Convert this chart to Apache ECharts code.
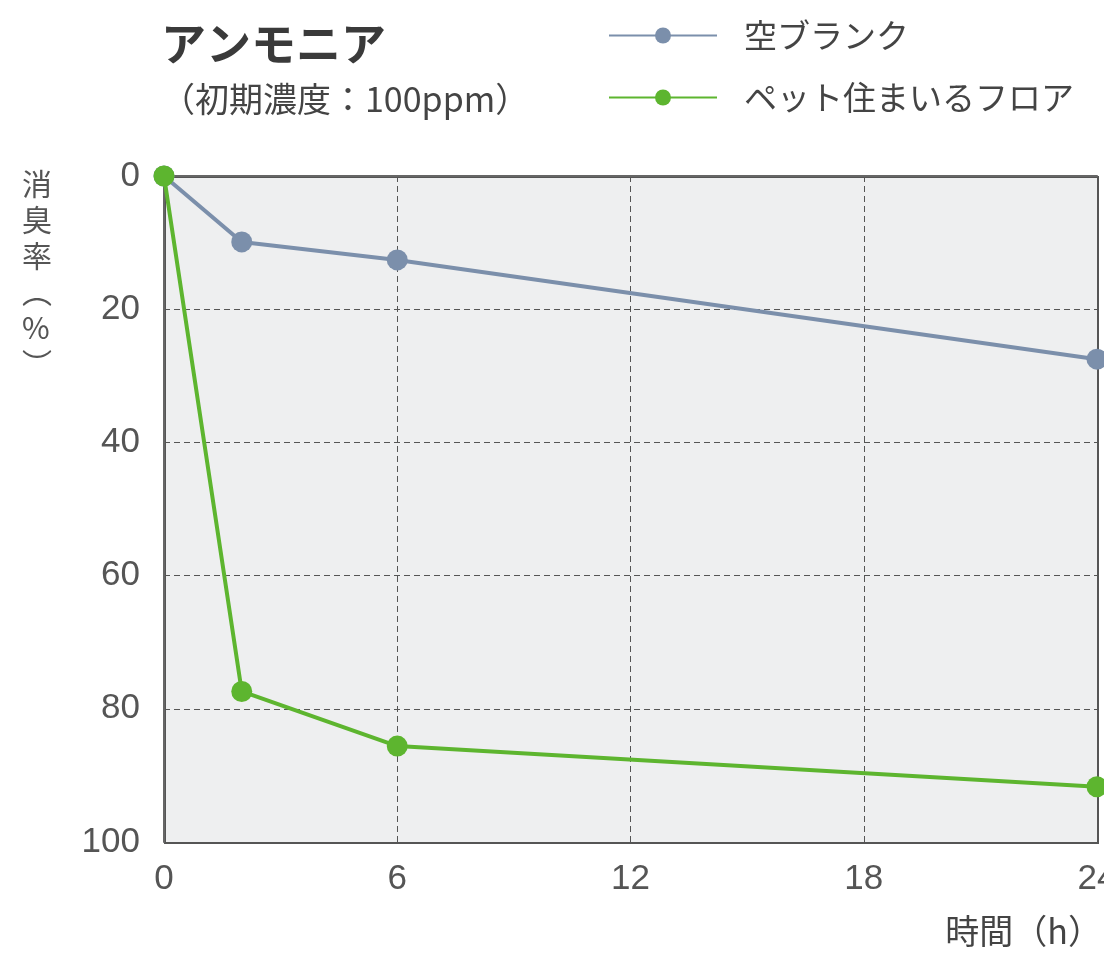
<!DOCTYPE html>
<html><head><meta charset="utf-8">
<script src="https://cdn.jsdelivr.net/npm/echarts@6/dist/echarts.min.js"></script>
<style>html,body{margin:0;padding:0;background:#fff}#c{width:1104px;height:961px}</style>
</head><body><div id="c"></div>
<script>
const hours = [0, 2, 6, 24];
const blankValues = [0, 9.9, 12.6, 27.5];
const petFloorValues = [0, 77.4, 85.6, 91.7];
const seriesNames = ['空ブランク', 'ペット住まいるフロア'];
const xTicks = [0, 6, 12, 18, 24];
const yTicks = [0, 20, 40, 60, 80, 100];

const FONT = '"Noto Sans CJK JP", "Noto Sans", sans-serif';
const NUMFONT = '"Liberation Sans", "Noto Sans CJK JP", sans-serif';
const chart = echarts.init(document.getElementById('c'));
chart.setOption({
  backgroundColor: '#fff',
  animation: false,
  title: {
    text: 'アンモニア',
    subtext: '（初期濃度：100ppm）',
    left: 156, top: 16,
    itemGap: 16,
    textStyle: {fontFamily: FONT, fontSize: 45, fontWeight: 'bold', color: '#3a3a3a'},
    subtextStyle: {fontFamily: FONT, fontSize: 34, color: '#444'}
  },
  legend: {
    left: 603, top: 14, orient: 'vertical',
    itemWidth: 108, itemHeight: 20, itemGap: 29,
    textStyle: {fontFamily: FONT, fontSize: 33, color: '#444', padding: [0,0,0,22]},
    data: seriesNames
  },
  grid: {left: 164, right: 7, top: 176, bottom: 119, outerBoundsMode: 'none', containLabel: false},
  xAxis: {
    type: 'value', min: 0, max: 24, interval: 6,
    axisLine: {show: true, lineStyle: {color: '#666', width: 2}},
    axisTick: {show: false},
    axisLabel: {fontFamily: NUMFONT, fontSize: 35, color: '#555', margin: 20,
      formatter: v => xTicks.includes(v) ? String(v) : ''},
    splitLine: {show: true, lineStyle: {color: '#555', type: [6, 4], width: 1}}
  },
  yAxis: {
    type: 'value', min: 0, max: 100, interval: 20, inverse: true,
    axisLine: {show: true, lineStyle: {color: '#666', width: 2}},
    axisTick: {show: false},
    axisLabel: {fontFamily: NUMFONT, fontSize: 35, color: '#555', margin: 24,
      formatter: v => yTicks.includes(v) ? String(v) : ''},
    splitLine: {show: true, lineStyle: {color: '#555', type: [6, 4], width: 1}}
  },
  graphic: [
    {type: 'rect', left: 164, top: 176, shape: {width: 933, height: 666}, z: -1,
      style: {fill: '#eeeff0', stroke: '#555', lineWidth: 2}},
    {type: 'text', right: 2, top: 914, style: {text: '時間（h）', font: '34px ' + FONT, fill: '#444'}},
    {type: 'text', left: 22, top: 166, style: {text: '消\n臭\n率\n︵\n%\n︶', font: '30px ' + FONT, fill: '#555', lineHeight: 36, align: 'center'}}
  ],
  series: [
    {name: seriesNames[0], type: 'line', data: hours.map((h, i) => [h, blankValues[i]]),
      symbol: 'circle', symbolSize: 21, lineStyle: {width: 4, color: '#7b8fab'},
      itemStyle: {color: '#7b8fab'}, z: 2},
    {name: seriesNames[1], type: 'line', data: hours.map((h, i) => [h, petFloorValues[i]]),
      symbol: 'circle', symbolSize: 21, lineStyle: {width: 4, color: '#5db52f'},
      itemStyle: {color: '#5db52f'}, z: 3}
  ]
});
</script></body></html>
